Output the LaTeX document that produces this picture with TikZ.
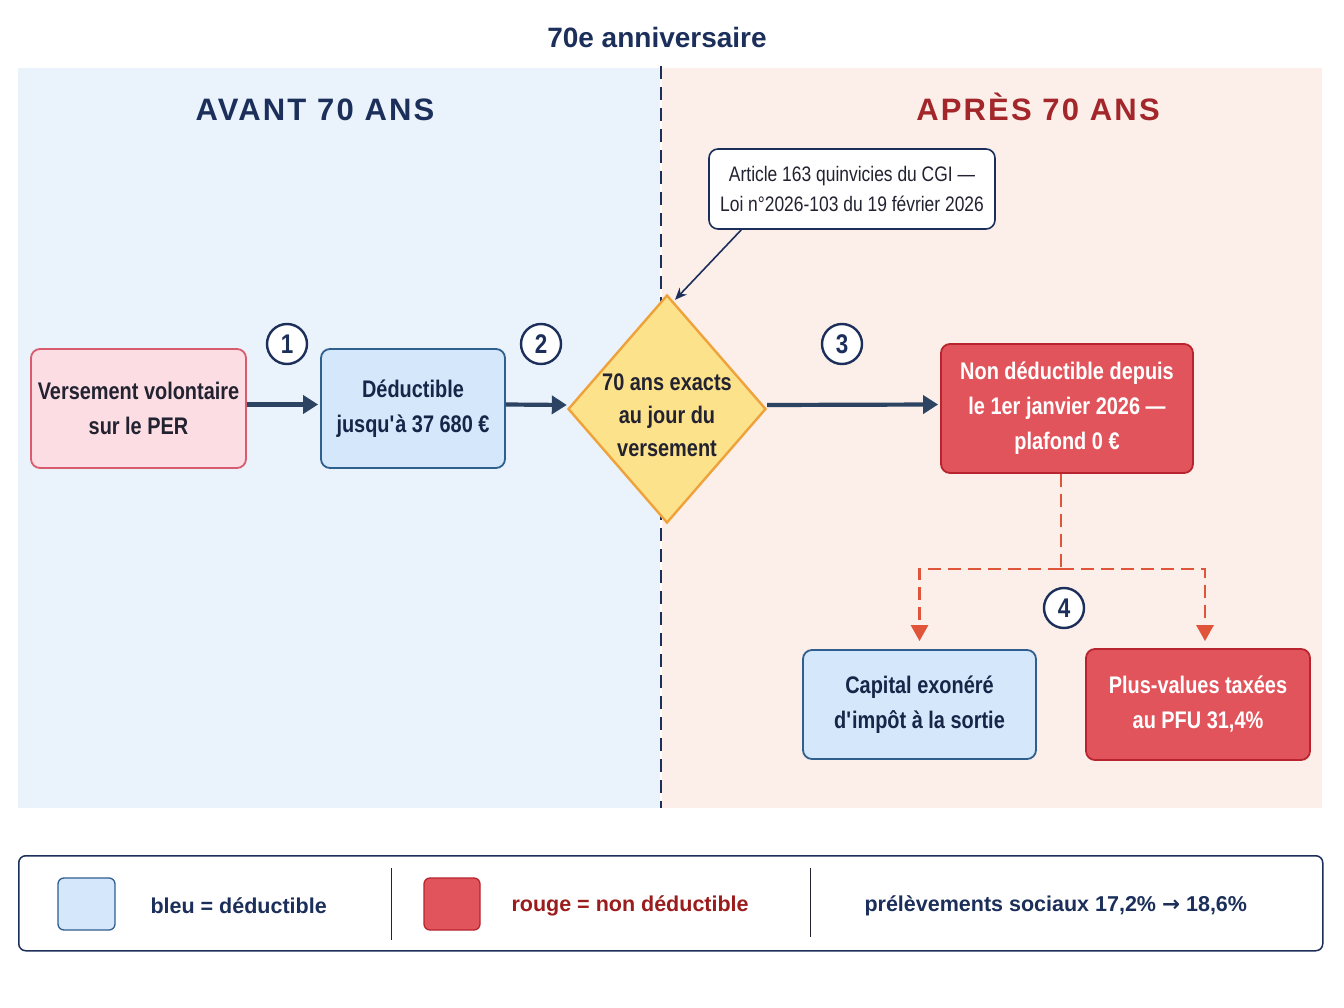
\documentclass[tikz,border=0pt]{standalone}
\usepackage{fontspec}
\setmainfont[FakeStretch=0.83]{Liberation Sans}
\newfontfamily\plainfont{Liberation Sans}
\newfontfamily\spacedfont[LetterSpace=7]{Liberation Sans}
\newfontfamily\symfont{DejaVu Sans}
\usetikzlibrary{arrows.meta,shapes.geometric,calc}
\definecolor{navy}{HTML}{1B2F5A}
\definecolor{darkred}{HTML}{A3262A}
\definecolor{legred}{HTML}{9B1C1C}
\definecolor{panelblue}{HTML}{EAF2FC}
\definecolor{panelred}{HTML}{FCEEE9}
\definecolor{pinkfill}{HTML}{FBDDE3}
\definecolor{pinkline}{HTML}{D95B6E}
\definecolor{bluefill}{HTML}{D5E7FA}
\definecolor{blueline}{HTML}{2F5F8F}
\definecolor{yelfill}{HTML}{FDE28C}
\definecolor{yelline}{HTML}{EFA23A}
\definecolor{redfill}{HTML}{E2545C}
\definecolor{redline}{HTML}{B8252F}
\definecolor{dashred}{HTML}{E0543A}
\definecolor{arrowc}{HTML}{2C4462}
\definecolor{darktext}{HTML}{222230}
\newcommand\boxfont{\fontsize{24}{35}\selectfont\bfseries}
\newcommand\apo{\textquotesingle}
\begin{document}
\begin{tikzpicture}[x=1pt,y=-1pt,
  box/.style={rounded corners=9pt, line width=1.8pt, align=center, inner sep=0pt, font=\boxfont},
  pinkbox/.style={box, fill=pinkfill, draw=pinkline, text=darktext},
  bluebox/.style={box, fill=bluefill, draw=blueline, text=navy!80!black},
  redbox/.style={box, fill=redfill, draw=redline, text=white},
  num/.style={circle, draw=navy, fill=white, line width=2.4pt, minimum size=40pt, inner sep=0pt, text=navy, font=\fontsize{27}{28}\selectfont\bfseries},
  flow/.style={line width=4.2pt, draw=arrowc, -{Triangle[length=15pt,width=18pt]}},
  redflow/.style={line width=2.8pt, draw=dashred, dash pattern=on 13pt off 7pt},
  heading/.style={anchor=base, font=\spacedfont\fontsize{31}{34}\selectfont\bfseries},
  legtext/.style={anchor=west, font=\plainfont\fontsize{21.5}{24}\selectfont\bfseries}
]
\useasboundingbox (0,0) rectangle (1344,1008);
\fill[white] (0,0) rectangle (1344,1008);

% panels
\node[fill=panelblue, minimum width=642, minimum height=740, inner sep=0, anchor=north west] (leftpanel) at (18,68) {};
\node[fill=panelred, minimum width=660, minimum height=740, inner sep=0, anchor=north west] (rightpanel) at (662,68) {};
\coordinate (septop) at (661,66);
\coordinate (sepbot) at (661,808);
\draw[navy, line width=2.2pt, dash pattern=on 13pt off 8pt] (septop) -- (sepbot);

% titles
\node[text=navy, font=\plainfont\fontsize{28}{30}\selectfont\bfseries] (title) at (657,37) {70e anniversaire};
\node[heading, text=navy] (avant) at (315,121) {AVANT 70 ANS};
\node[heading, text=darkred] (apres) at (1038,121) {APRÈS 70 ANS};

% main row
\node[pinkbox, minimum width=215, minimum height=119] (b1) at (138.5,408.5) {Versement volontaire\\sur le PER};
\node[bluebox, minimum width=184, minimum height=119] (b2) at (413,408.5) {Déductible\\jusqu\apo à 37 680 €};
\node[diamond, fill=yelfill, draw=yelline, line width=2.4pt, minimum width=198, minimum height=228, inner sep=0] (dia) at (667,409) {};
\node[align=center, text=darktext, font=\fontsize{24}{33}\selectfont\bfseries] (diatext) at (667,415) {70 ans exacts\\au jour du\\versement};
\node[redbox, minimum width=252, minimum height=129] (b3) at (1067,408.5) {Non déductible depuis\\le 1er janvier 2026 —\\plafond 0 €};

% callout
\node[rounded corners=9pt, draw=navy, fill=white, line width=1.6pt, minimum width=286, minimum height=80, align=center, inner sep=0, text=darktext, font=\fontsize{21}{30}\selectfont] (callout) at (852,189) {Article 163 quinvicies du CGI —\\Loi n°2026-103 du 19 février 2026};
\coordinate (cs) at ($(callout.south west)!0.115!(callout.south east)$);
\coordinate (ce) at ($(dia.north)+(8,6)$);
\draw[navy, line width=1.6pt, -{Stealth[length=12pt,width=10pt]}] (cs) -- (ce);

% arrows
\draw[flow] ([yshift=4]b1.east) -- ([xshift=-2,yshift=4]b2.west);
\draw[flow] ([yshift=4]b2.east) -- ([yshift=4]dia.west);
\draw[flow] ([yshift=4]dia.east) -- ([xshift=-2,yshift=4]b3.west);

% numbers
\node[num] (n1) at (287,344) {1};
\node[num] (n2) at (541,344) {2};
\node[num] (n3) at (842,344) {3};

% bottom boxes
\node[bluebox, minimum width=233, minimum height=109] (b4) at (919.5,704.5) {Capital exonéré\\d\apo impôt à la sortie};
\node[redbox, minimum width=224, minimum height=111] (b5) at (1198,704.5) {Plus-values taxées\\au PFU 31,4\%};

\coordinate (split) at ($(b3.south)+(-6,95)$);
\draw[redflow] ([xshift=-6]b3.south) -- (split);
\draw[redflow, -{Triangle[length=16pt,width=17pt]}] (split) -| ([yshift=8]b4.north);
\draw[redflow, -{Triangle[length=16pt,width=17pt]}] (split) -| ([xshift=7,yshift=7]b5.north);
\node[num] (n4) at (1064,608) {4};

% legend
\node[rounded corners=7pt, draw=navy, fill=white, line width=1.5pt, minimum width=1304, minimum height=95, inner sep=0, anchor=north west] (legend) at (18,855) {};
\node[rounded corners=6pt, draw=blueline, fill=bluefill, line width=1.3pt, minimum width=57, minimum height=52, inner sep=0] (swblue) at (86.5,904) {};
\node[rounded corners=6pt, draw=redline, fill=redfill, line width=1.3pt, minimum width=56, minimum height=52, inner sep=0] (swred) at (452,904) {};
\coordinate (s1t) at (391,868); \coordinate (s1b) at (391,940);
\coordinate (s2t) at (810,868); \coordinate (s2b) at (810,937);
\draw[darktext, line width=1pt] (s1t) -- (s1b);
\draw[darktext, line width=1pt] (s2t) -- (s2b);
\node[legtext, text=navy] (l1) at (147,906) {bleu = déductible};
\node[legtext, text=legred] (l2) at (508,906) {rouge = non déductible};
\node[legtext, text=navy] (l3) at (861,906) {prélèvements sociaux 17,2\% {\symfont\bfseries →} 18,6\%};
\end{tikzpicture}
\end{document}
